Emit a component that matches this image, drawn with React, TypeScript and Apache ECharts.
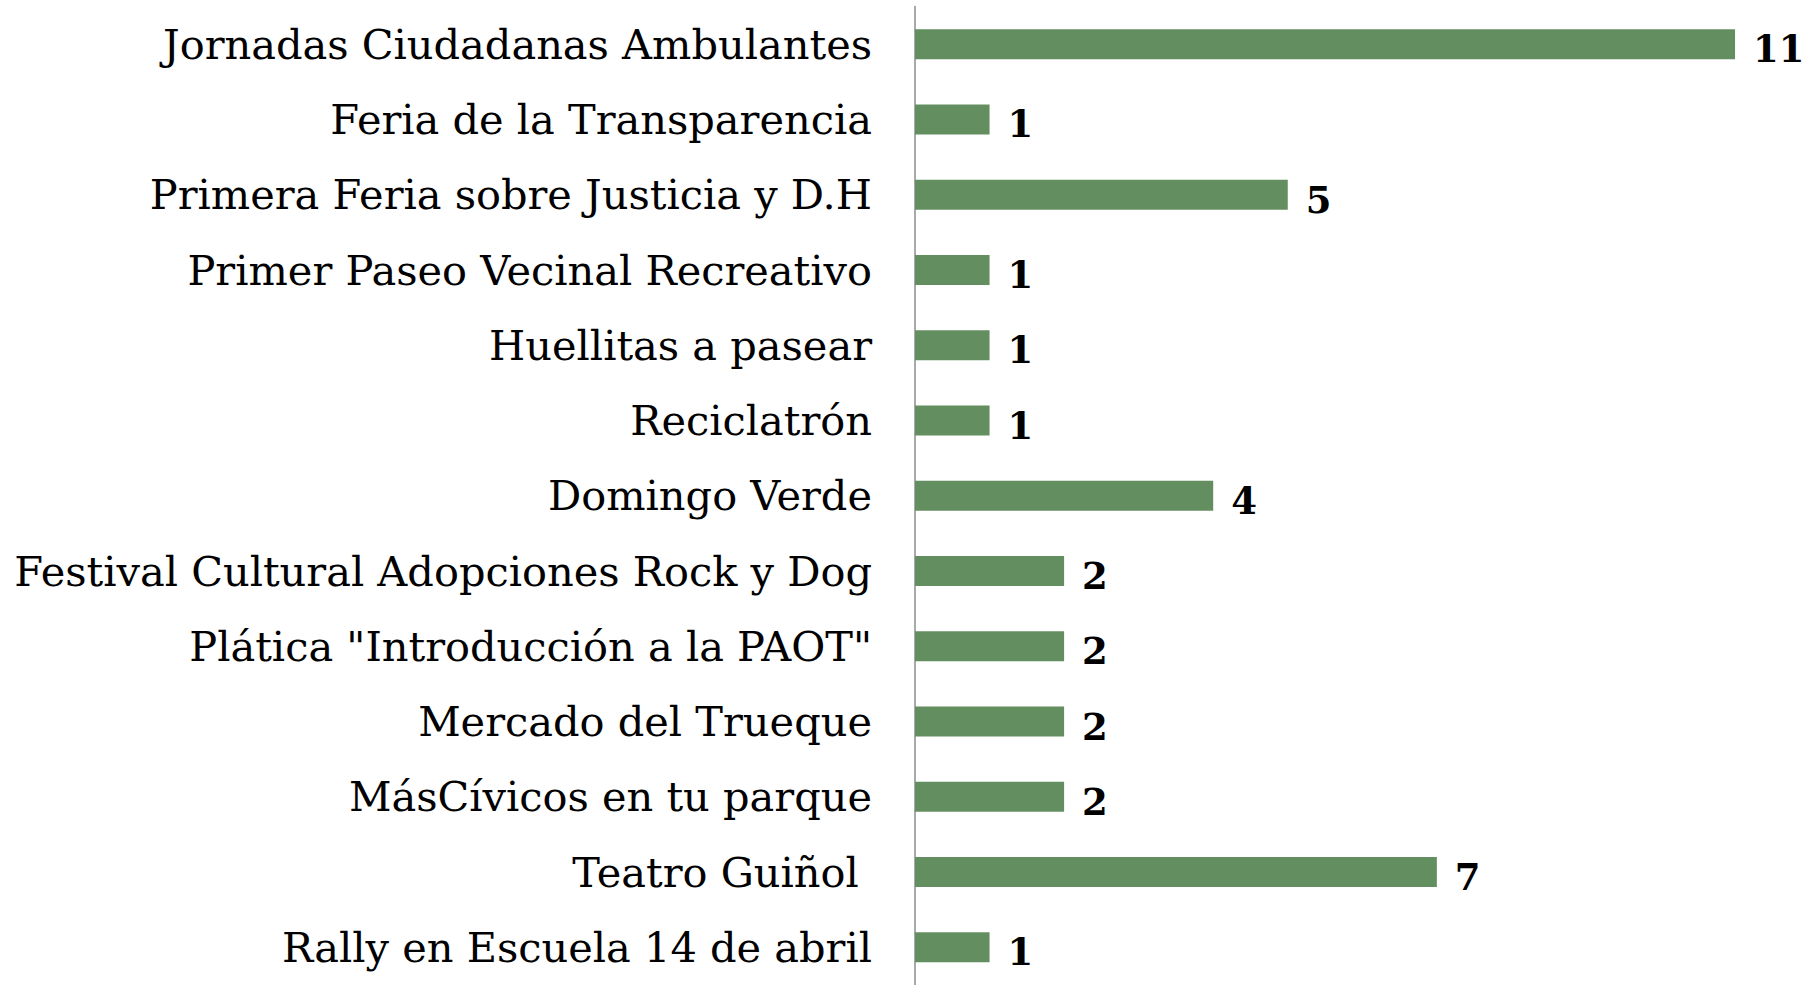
import React, { useEffect, useRef } from "react";
import * as echarts from "echarts";

const categories = [
  "Jornadas Ciudadanas Ambulantes",
  "Feria de la Transparencia",
  "Primera Feria sobre Justicia y D.H",
  "Primer Paseo Vecinal Recreativo",
  "Huellitas a pasear",
  "Reciclatrón",
  "Domingo Verde",
  "Festival Cultural Adopciones Rock y Dog",
  "Plática \"Introducción a la PAOT\"",
  "Mercado del Trueque",
  "MásCívicos en tu parque",
  "Teatro Guiñol ",
  "Rally en Escuela 14 de abril",
];
const values = [11, 1, 5, 1, 1, 1, 4, 2, 2, 2, 2, 7, 1];

export default function App() {
  const ref = useRef<HTMLDivElement>(null);
  useEffect(() => {
    document.body.style.margin = "0";
    const chart = echarts.init(ref.current!, null, { renderer: "svg" });
    chart.setOption({
      animation: false,
      backgroundColor: "#ffffff",
      grid: { left: 915, top: 6.6, width: 894.6, height: 984.75, containLabel: false },
      xAxis: {
        type: "value",
        min: 0,
        max: 12,
        show: false,
      },
      yAxis: {
        type: "category",
        data: categories,
        inverse: true,
        axisLine: { show: true, lineStyle: { color: "#8c8c8c", width: 1.5 } },
        axisTick: { show: false },
        axisLabel: {
          margin: 43,
          color: "#000000",
          fontFamily: "DejaVu Serif",
          fontSize: 41.5,
        },
      },
      series: [
        {
          type: "bar",
          data: values,
          barWidth: 30,
          itemStyle: { color: "#638e60" },
          label: {
            show: true,
            position: "right",
            distance: 18,
            offset: [0, 5],
            color: "#000000",
            fontFamily: "DejaVu Serif",
            fontWeight: "bold",
            fontSize: 37,
          },
        },
      ],
    });
    return () => chart.dispose();
  }, []);
  return <div ref={ref} style={{ width: 1814, height: 985 }} />;
}
